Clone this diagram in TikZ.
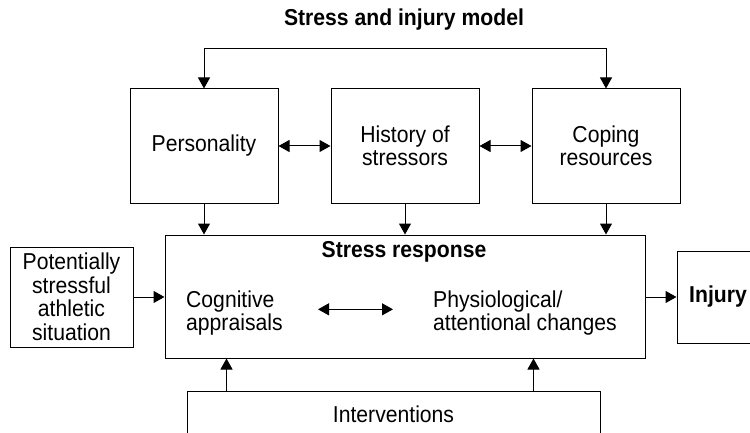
\documentclass[tikz,border=0pt]{standalone}
\usepackage{fontspec}
\setmainfont[FakeStretch=0.92]{Liberation Sans}
\usetikzlibrary{arrows.meta,calc}
\tikzset{
  lbl/.style={font=\fontsize{23pt}{23.5pt}\selectfont},
  box/.style={draw, line width=1pt, inner sep=0pt, align=center, lbl},
  txt/.style={inner sep=0pt, align=left, lbl},
  bold/.style={inner sep=0pt, font=\fontsize{23pt}{23.5pt}\selectfont\bfseries},
  tip/.tip={Triangle[length=11pt,width=12pt]},
  arr/.style={line width=1pt, -tip},
  darr/.style={line width=1pt, tip-tip}
}
\begin{document}
\begin{tikzpicture}[x=1pt, y=-1pt]
\clip (0,0) rectangle (750,433);

% title
\node[bold] (title) at (404,20) {Stress and injury model};

% three upper boxes
\node[box, minimum width=148pt, minimum height=114pt] (per) at (204,146) {Personality};
\node[box, minimum width=148pt, minimum height=114pt] (his) at (405,146) {History of\\stressors};
\node[box, minimum width=148pt, minimum height=114pt] (cop) at (606,146) {Coping\\resources};

% stress response block
\node[box, minimum width=480pt, minimum height=123pt] (str) at (405,296.5) {};
\node[bold] (strt) at (404,252) {Stress response};
\node[txt, anchor=west] (cog) at (186,313) {Cognitive\\appraisals};
\node[txt, anchor=west] (phy) at (433,313) {Physiological/\\attentional changes};

% side boxes
\node[box, minimum width=123pt, minimum height=100pt] (pot) at (71.5,297) {Potentially\\stressful\\athletic\\situation};
\node[box, minimum width=82pt, minimum height=92pt, font=\fontsize{23pt}{23.5pt}\selectfont\bfseries] (inj) at (718,297) {Injury};

% interventions
\node[box, minimum width=413pt, minimum height=46pt] (int) at (393.5,414) {Interventions};

% connectors
\draw[darr] (per.north) -- ++(0,-40) -| (cop.north);
\draw[darr] (per.east) -- (his.west);
\draw[darr] (his.east) -- (cop.west);
\draw[arr] (per.south) -- (per.south |- str.north);
\draw[arr] (his.south) -- (his.south |- str.north);
\draw[arr] (cop.south) -- (cop.south |- str.north);
\draw[arr] (pot.east) -- (pot.east -| str.west);
\draw[arr] (str.east |- inj.west) -- (inj.west);
\coordinate (da) at ($(cog.north west)+(132,19)$);
\coordinate (db) at ($(cog.north west)+(207,19)$);
\draw[darr] (da) -- (db);
\coordinate (ia) at ($(int.north west)+(40,0)$);
\coordinate (ib) at ($(int.north west)+(347,0)$);
\draw[arr] (ia) -- (ia |- str.south);
\draw[arr] (ib) -- (ib |- str.south);
\end{tikzpicture}
\end{document}
